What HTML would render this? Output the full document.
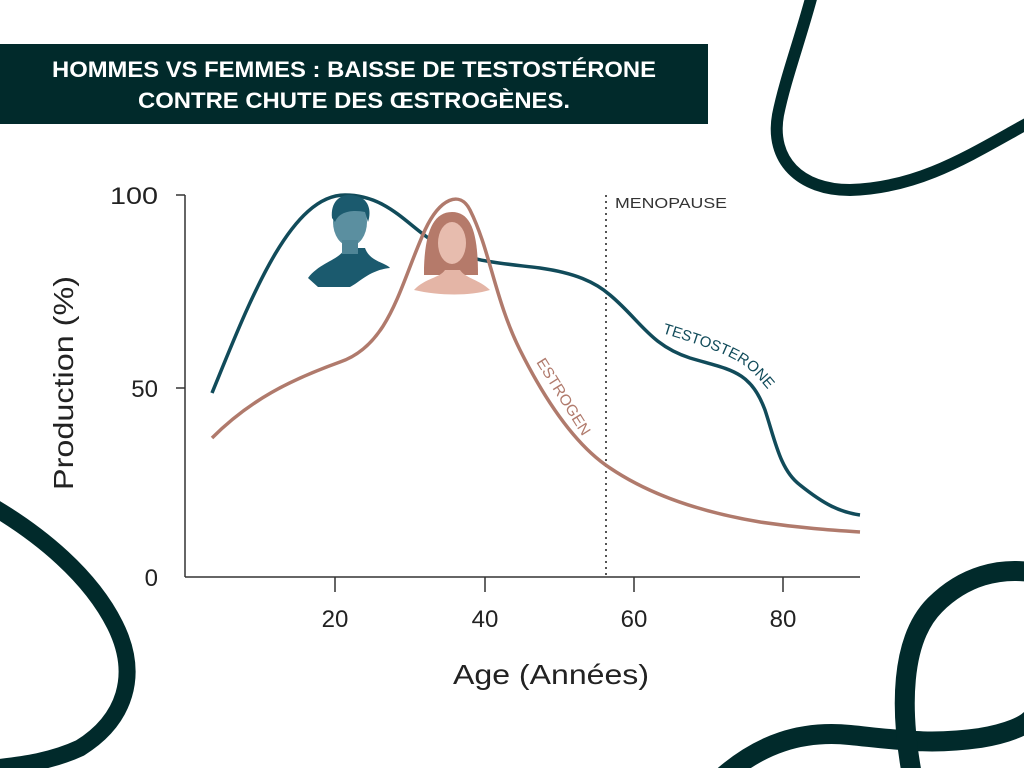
<!DOCTYPE html>
<html><head><meta charset="utf-8"><style>
html,body{margin:0;padding:0;background:#fff;}
svg{display:block;}
</style></head><body>
<svg width="1024" height="768" viewBox="0 0 1024 768" xmlns="http://www.w3.org/2000/svg" font-family="Liberation Sans, sans-serif">
<defs><path id="tp" d="M662,333 C700,345 735,355 752,372 C765,385 772,395 780,405" fill="none"/></defs>
<rect width="1024" height="768" fill="#fff"/>
<g fill="none" stroke="#012a2b" stroke-linecap="round">
<path d="M812,-5 C800,40 785,80 778,115 C770,160 800,190 850,190 C920,188 970,155 1030,122" stroke-width="12"/>
<path d="M-5,508 C40,535 90,575 115,625 C140,675 125,720 80,748 C50,762 20,765 -5,768" stroke-width="17"/>
<path d="M725,775 C760,745 800,730 850,735 C900,740 930,745 980,738 C1010,733 1025,725 1030,720" stroke-width="20"/>
<path d="M912,775 C900,710 900,640 935,605 C965,575 1000,568 1030,572" stroke-width="20"/>
</g>
<rect x="0" y="44" width="708" height="80" fill="#012a2b"/>
<text x="354" y="77" fill="#fff" font-weight="bold" font-size="22" text-anchor="middle" textLength="604" lengthAdjust="spacingAndGlyphs">HOMMES VS FEMMES : BAISSE DE TESTOSTÉRONE</text>
<text x="354" y="108" fill="#fff" font-weight="bold" font-size="22" text-anchor="middle" textLength="432" lengthAdjust="spacingAndGlyphs">CONTRE CHUTE DES ŒSTROGÈNES.</text>
<g stroke="#333" stroke-width="1.5" fill="none">
<line x1="185" y1="195" x2="185" y2="577"/>
<line x1="185" y1="577" x2="860" y2="577"/>
<line x1="176" y1="195" x2="185" y2="195"/>
<line x1="176" y1="388" x2="185" y2="388"/>
<line x1="335" y1="577" x2="335" y2="592"/>
<line x1="485" y1="577" x2="485" y2="592"/>
<line x1="634" y1="577" x2="634" y2="592"/>
<line x1="783" y1="577" x2="783" y2="592"/>
</g>
<g fill="#222" font-size="24">
<text x="158" y="204" text-anchor="end" textLength="48" lengthAdjust="spacingAndGlyphs">100</text>
<text x="158" y="397" text-anchor="end">50</text>
<text x="158" y="586" text-anchor="end">0</text>
<text x="335" y="627" text-anchor="middle">20</text>
<text x="485" y="627" text-anchor="middle">40</text>
<text x="634" y="627" text-anchor="middle">60</text>
<text x="783" y="627" text-anchor="middle">80</text>
<text x="551" y="684" text-anchor="middle" font-size="28" textLength="196" lengthAdjust="spacingAndGlyphs">Age (Années)</text>
<text transform="translate(73,383) rotate(-90)" text-anchor="middle" font-size="28" textLength="214" lengthAdjust="spacingAndGlyphs">Production (%)</text>
</g>
<line x1="606" y1="195" x2="606" y2="577" stroke="#555" stroke-width="2" stroke-dasharray="2,4"/>
<text x="615" y="208" font-size="15" fill="#333" textLength="112" lengthAdjust="spacingAndGlyphs">MENOPAUSE</text>
<path d="M212,393 C250,300 290,195 345,195 C390,195 410,230 440,245 C470,262 500,263 540,268 C575,273 595,282 610,295 C640,320 650,345 690,358 C730,370 750,370 765,410 C775,440 780,470 800,485 C825,505 840,512 860,515" fill="none" stroke="#114b5a" stroke-width="3.5"/>
<path d="M212,438 C250,400 290,380 340,362 C390,345 400,285 425,230 C440,198 460,190 470,210 C490,250 495,300 520,350 C545,400 575,445 610,468 C650,495 700,512 760,522 C800,528 830,530 860,532" fill="none" stroke="#b07a6c" stroke-width="3.5"/>
<text font-size="15" fill="#114b5a"><textPath href="#tp">TESTOSTERONE</textPath></text>
<text transform="translate(536,362) rotate(58)" font-size="15" fill="#b07a6c" textLength="88" lengthAdjust="spacingAndGlyphs">ESTROGEN</text>
<g>
<path d="M308,278 C320,262 340,260 345,248 L365,248 C370,262 385,262 390,268 C370,270 360,282 350,287 L318,287 Z" fill="#1b5a6e"/>
<ellipse cx="350" cy="222" rx="17" ry="24" fill="#5b8fa0"/>
<path d="M332,218 C330,198 345,192 356,196 C368,198 372,210 368,222 L365,212 C355,210 340,210 335,222 Z" fill="#1b5a6e"/>
<rect x="342" y="240" width="16" height="14" fill="#4f8596"/>
</g>
<g>
<path d="M424,268 C425,235 432,212 452,212 C472,212 478,235 478,275 L424,275 Z" fill="#b57a6a"/>
<path d="M414,290 C425,278 440,278 445,270 L460,270 C465,278 480,280 490,290 C470,296 440,296 414,290 Z" fill="#e4b5a6"/>
<ellipse cx="452" cy="243" rx="14" ry="21" fill="#e7bcae"/>
</g>
</svg>
</body></html>
